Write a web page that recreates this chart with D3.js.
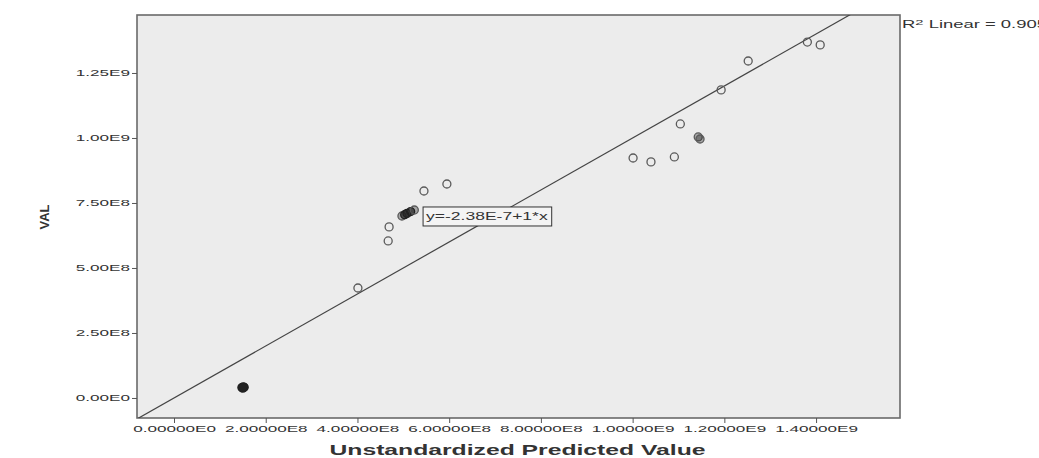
<!DOCTYPE html>
<html>
<head>
<meta charset="utf-8"/>
<script src="https://d3js.org/d3.v7.min.js"></script>
<style>
body { margin: 0; background: #fff; overflow: hidden; }
text { font-family: "Liberation Sans", Arial, sans-serif; fill: #333; }
</style>
</head>
<body>
<svg id="svg" width="1039" height="458"></svg>
<script>
// unstandardized predicted value vs VAL
var predicted = [1.48e8, 1.51e8, 1.53e8, 1.50e8, 4.01e8, 4.67e8, 4.69e8, 4.97e8, 5.03e8, 5.08e8, 5.16e8, 5.24e8,
                 5.45e8, 5.95e8, 1.001e9, 1.040e9, 1.091e9, 1.104e9, 1.143e9, 1.147e9, 1.193e9, 1.252e9, 1.381e9, 1.409e9];
var actual    = [4.0e7, 4.3e7, 4.1e7, 3.8e7, 4.23e8, 6.04e8, 6.58e8, 7.0e8, 7.05e8, 7.1e8, 7.17e8, 7.23e8,
                 7.96e8, 8.23e8, 9.23e8, 9.08e8, 9.27e8, 1.054e9, 1.004e9, 9.96e8, 1.185e9, 1.296e9, 1.369e9, 1.358e9];

var xTicks = [0, 2e8, 4e8, 6e8, 8e8, 1e9, 1.2e9, 1.4e9];
var xTickLabels = ["0.00000E0", "2.00000E8", "4.00000E8", "6.00000E8", "8.00000E8", "1.00000E9", "1.20000E9", "1.40000E9"];
var yTicks = [0, 2.5e8, 5e8, 7.5e8, 1e9, 1.25e9];
var yTickLabels = ["0.00E0", "2.50E8", "5.00E8", "7.50E8", "1.00E9", "1.25E9"];

var fitIntercept = -2.38e-7, fitSlope = 1;
var fitLabel = "y=-2.38E-7+1*x";

var plot = { left: 137, right: 900, top: 15, bottom: 418 };

var svg = d3.select("#svg");

var x = d3.scaleLinear().domain([-8.07e7, 1.583e9]).range([plot.left, plot.right]);
var y = d3.scaleLinear().domain([-7.7e7, 1.473e9]).range([plot.bottom, plot.top]);

// stretch text horizontally like the source image
function stretch(sel, f) {
  sel.each(function() {
    var w = this.getComputedTextLength();
    d3.select(this).attr("textLength", w * f).attr("lengthAdjust", "spacingAndGlyphs");
  });
}

svg.append("rect")
  .attr("x", plot.left).attr("y", plot.top)
  .attr("width", plot.right - plot.left).attr("height", plot.bottom - plot.top)
  .attr("fill", "#ececec")
  .attr("stroke", "#6a6a6a").attr("stroke-width", 1.6);

svg.append("clipPath").attr("id", "clip")
  .append("rect")
  .attr("x", plot.left).attr("y", plot.top)
  .attr("width", plot.right - plot.left).attr("height", plot.bottom - plot.top);

// axes
var xAxis = d3.axisBottom(x).tickValues(xTicks).tickSize(5).tickPadding(3)
  .tickFormat(function(d, i) { return xTickLabels[i]; });
var xg = svg.append("g").attr("transform", "translate(0," + plot.bottom + ")").call(xAxis);
xg.select(".domain").remove();
xg.selectAll(".tick line").attr("stroke", "#555");
xg.selectAll(".tick text").style("font-size", "9px").attr("fill", "#333").call(stretch, 1.9);

var yAxis = d3.axisLeft(y).tickValues(yTicks).tickSize(5).tickPadding(2)
  .tickFormat(function(d, i) { return yTickLabels[i]; });
var yg = svg.append("g").attr("transform", "translate(" + plot.left + ",0)").call(yAxis);
yg.select(".domain").remove();
yg.selectAll(".tick line").attr("stroke", "#555");
yg.selectAll(".tick text").style("font-size", "9px").attr("fill", "#333").call(stretch, 1.9);

// fit line
var x0 = x.domain()[0], x1 = x.domain()[1];
svg.append("line")
  .attr("clip-path", "url(#clip)")
  .attr("x1", x(x0)).attr("y1", y(fitIntercept + fitSlope * x0))
  .attr("x2", x(x1)).attr("y2", y(fitIntercept + fitSlope * x1))
  .attr("stroke", "#444").attr("stroke-width", 1.2);

// points: darker where they pile up
var pts = predicted.map(function(p, i) { return { px: x(p), py: y(actual[i]) }; });
pts.forEach(function(a) {
  a.n = pts.filter(function(b) { return b !== a && Math.hypot(a.px - b.px, a.py - b.py) < 5; }).length;
});
svg.append("g").attr("clip-path", "url(#clip)")
  .selectAll("circle").data(pts).enter().append("circle")
  .attr("cx", function(d) { return d.px; })
  .attr("cy", function(d) { return d.py; })
  .attr("r", 4)
  .attr("fill", "#222")
  .attr("fill-opacity", function(d) { return Math.min(1, d.n * 0.35); })
  .attr("stroke", function(d) { return d.n > 1 ? "#222" : "#5a5a5a"; })
  .attr("stroke-width", 1.3);

// fit label box
var lx = x(5.3e8) + 5, ly = y(7.0e8);
var lbl = svg.append("g");
var lt = lbl.append("text").attr("x", lx + 4).attr("y", ly + 4).style("font-size", "10px").attr("fill", "#222").text(fitLabel);
lt.call(stretch, 1.75);
var bb = lt.node().getBBox();
lbl.insert("rect", "text")
  .attr("x", bb.x - 3).attr("y", ly - 9)
  .attr("width", bb.width + 7).attr("height", 19)
  .attr("fill", "#f4f4f4").attr("stroke", "#333").attr("stroke-width", 1);

// R2 label
var r2 = svg.append("text").attr("x", plot.right + 2).attr("y", 28).style("font-size", "10px").attr("fill", "#222");
r2.append("tspan").text("R");
r2.append("tspan").attr("dy", -3).style("font-size", "8px").text("2");
r2.append("tspan").attr("dy", 3).text(" Linear = 0.905");
r2.attr("textLength", 145).attr("lengthAdjust", "spacingAndGlyphs");

// axis titles
svg.append("text")
  .attr("x", (plot.left + plot.right) / 2 - 1).attr("y", 455)
  .attr("text-anchor", "middle")
  .style("font-size", "14px").style("font-weight", "bold").attr("fill", "#222")
  .text("Unstandardized Predicted Value")
  .attr("textLength", 376).attr("lengthAdjust", "spacingAndGlyphs");

svg.append("text")
  .attr("transform", "translate(49,217) rotate(-90)")
  .attr("text-anchor", "middle")
  .style("font-size", "13px").style("font-weight", "bold").attr("fill", "#222")
  .text("VAL")
  .attr("textLength", 25).attr("lengthAdjust", "spacingAndGlyphs");
</script>
</body>
</html>
